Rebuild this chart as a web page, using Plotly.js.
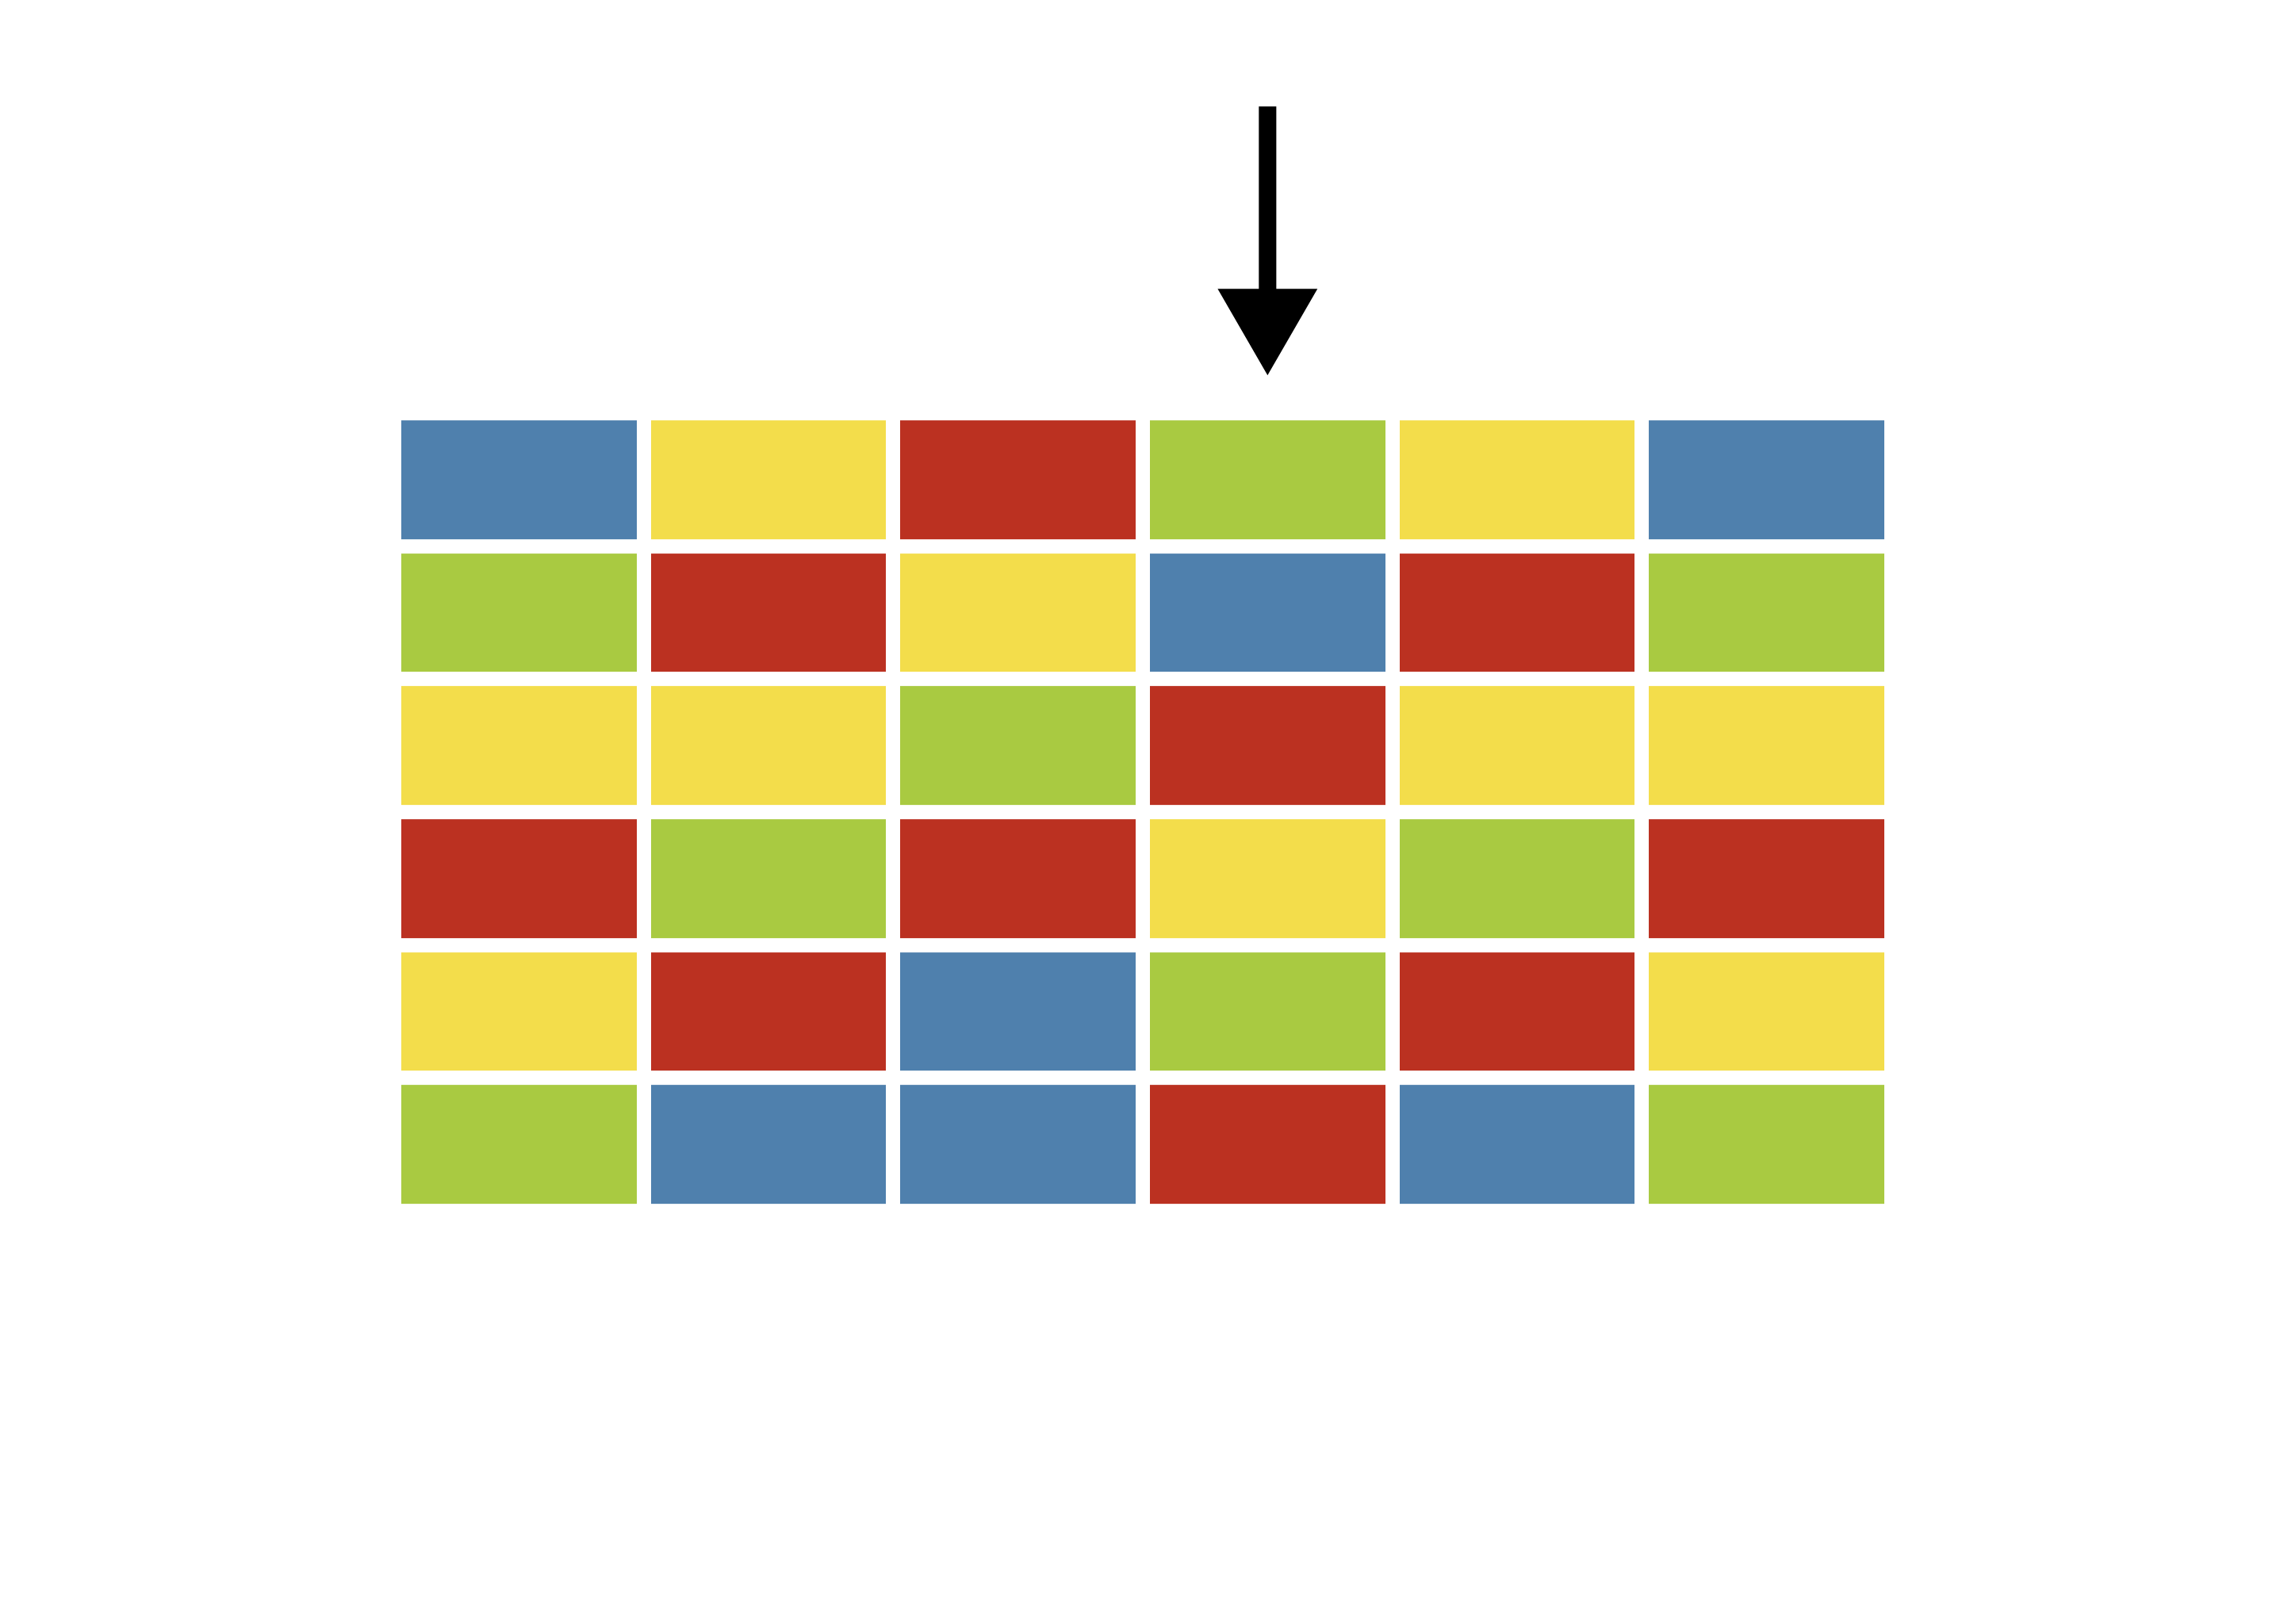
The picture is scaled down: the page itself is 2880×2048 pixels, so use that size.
<!DOCTYPE html>
<html>
<head>
<meta charset="utf-8">
<script src="https://cdn.plot.ly/plotly-3.0.1.min.js"></script>
<style>html,body{margin:0;padding:0;background:#fff;}#chart{width:2880px;height:2048px;}</style>
</head>
<body>
<div id="chart"></div>
<script>
// ---- data ----
var columns = [0, 1, 2, 3, 4, 5];
var rows = [0, 1, 2, 3, 4, 5];
var colorNames = ['blue', 'yellow', 'red', 'green'];
var row1 = ['blue', 'yellow', 'red', 'green', 'yellow', 'blue'];
var row2 = ['green', 'red', 'yellow', 'blue', 'red', 'green'];
var row3 = ['yellow', 'yellow', 'green', 'red', 'yellow', 'yellow'];
var row4 = ['red', 'green', 'red', 'yellow', 'green', 'red'];
var row5 = ['yellow', 'red', 'blue', 'green', 'red', 'yellow'];
var row6 = ['green', 'blue', 'blue', 'red', 'blue', 'green'];
var arrowColumn = 3;

// ---- styles ----
var palette = {blue: '#4F80AD', yellow: '#F3DD4B', red: '#BB3121', green: '#A9CA41'};

var grid = [row1, row2, row3, row4, row5, row6];
var z = grid.map(function (r) { return r.map(function (c) { return colorNames.indexOf(c); }); });
var n = colorNames.length;
var colorscale = [];
colorNames.forEach(function (c, i) {
  colorscale.push([i / n, palette[c]]);
  colorscale.push([(i + 1) / n, palette[c]]);
});

var heat = {
  type: 'heatmap',
  x: columns,
  y: rows,
  z: z,
  zmin: -0.5,
  zmax: n - 0.5,
  colorscale: colorscale,
  showscale: false,
  xgap: 18,
  ygap: 18,
  hoverinfo: 'skip'
};

// arrow geometry (in axis units, relative to the column it points at)
var shaftHalf = 0.035, headHalf = 0.2;
var tipY = -0.786, headTopY = -1.436, shaftTopY = -2.808;
var ax = arrowColumn;
var arrow = {
  type: 'scatter',
  mode: 'lines',
  x: [ax - shaftHalf, ax + shaftHalf, ax + shaftHalf, ax + headHalf, ax, ax - headHalf, ax - shaftHalf, ax - shaftHalf],
  y: [shaftTopY, shaftTopY, headTopY, headTopY, tipY, headTopY, headTopY, shaftTopY],
  fill: 'toself',
  fillcolor: '#000000',
  line: {width: 0, color: '#000000'},
  hoverinfo: 'skip',
  showlegend: false
};

var layout = {
  width: 2880,
  height: 2048,
  margin: {l: 497, r: 495, t: 102, b: 521, pad: 0},
  paper_bgcolor: '#ffffff',
  plot_bgcolor: '#ffffff',
  showlegend: false,
  xaxis: {range: [-0.5, 5.5], visible: false, showgrid: false, zeroline: false, fixedrange: true},
  yaxis: {range: [5.5, -3.0], visible: false, showgrid: false, zeroline: false, fixedrange: true}
};

Plotly.newPlot('chart', [heat, arrow], layout, {staticPlot: true, displayModeBar: false});
</script>
</body>
</html>
